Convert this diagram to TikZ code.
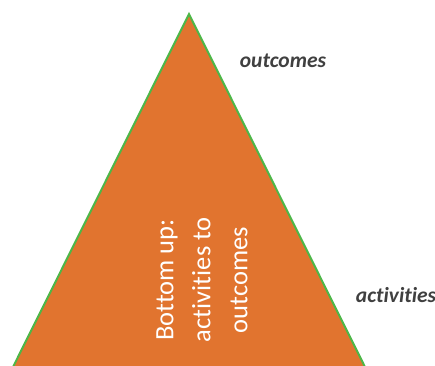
\documentclass[tikz,border=0pt]{standalone}
\usepackage{fontspec}
\setmainfont{Carlito}[Ligatures=NoCommon]
\definecolor{pyrfill}{HTML}{E1742F}
\definecolor{pyrline}{HTML}{4DB748}
\definecolor{lbltext}{HTML}{404040}
\begin{document}
\begin{tikzpicture}[x=1pt,y=-1pt,
     lbl/.style={font=\fontsize{21.5}{24}\selectfont\bfseries\itshape,text=lbltext,inner sep=0pt},
     inlbl/.style={font=\fontsize{26.5}{37}\selectfont,text=white,align=center,rotate=90,inner sep=0pt}
     ]
%Page size of the picture
\def \pgw{435}
\def \pgh{365}
\useasboundingbox (0,0) rectangle (\pgw,\pgh);

%Corners of the triangle
\coordinate (top) at (189,14);
\coordinate (bl) at (13,367);
\coordinate (br) at (365,367);

%Draw the triangle
\begin{scope}
\clip (0,0) rectangle (\pgw,\pgh);
\draw[pyrline,line width=2pt,fill=pyrfill,line join=miter] (bl)--(top)--(br)--cycle;
\end{scope}

%Text inside the triangle
\node[inlbl] (inside) at (202,280) {Bottom up:\\activities to\\outcomes};

%Side labels
\node[lbl] (outc) at (283,61) {outcomes};
\node[lbl] (actv) at (396,295) {activities};
\end{tikzpicture}
\end{document}
